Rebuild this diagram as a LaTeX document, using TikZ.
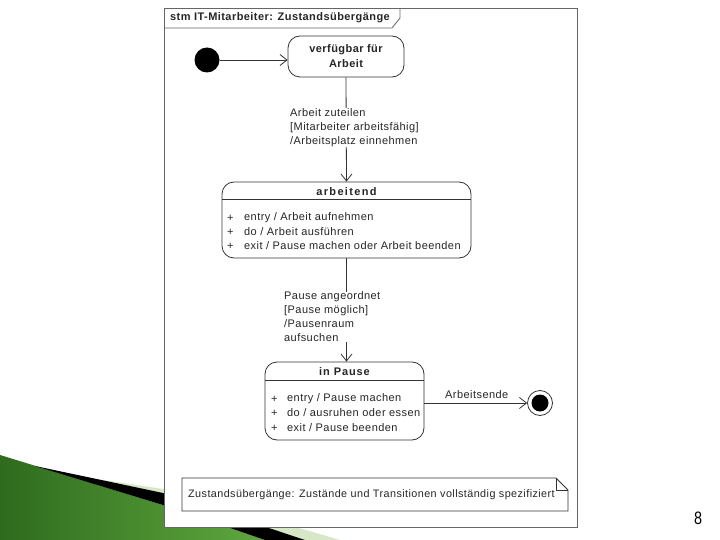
\documentclass[tikz,border=0pt]{standalone}
\usepackage{fontspec}
\setmainfont{Liberation Sans}[LetterSpace=4]
\newfontfamily\numfont{Liberation Sans}
\usetikzlibrary{arrows.meta,calc}
\definecolor{gdark}{HTML}{2E6B1E}
\definecolor{glight}{HTML}{5FA83E}
\definecolor{gpale}{HTML}{D6E8C8}
\tikzset{
  line/.style={draw=black!80, line width=0.8pt},
  state/.style={line, rounded corners=12pt, rectangle, fill=white, inner sep=0pt},
  lbl/.style={font=\fontsize{11}{14}\selectfont, text=black!85, inner sep=0pt, align=left},
  hdr/.style={font=\bfseries\fontsize{11}{15}\selectfont, text=black!85, inner sep=0pt, align=center},
  arr/.style={line, -{Straight Barb[length=7pt,width=11pt]}},
}
\begin{document}
\begin{tikzpicture}[x=1pt,y=-1pt]
\useasboundingbox (0,0) rectangle (720,540);
% slide decoration
\fill[gpale] (90,478) -- (170,490) -- (340,540) -- (300,540) -- (163,495) -- cycle;
\shade[left color=gdark, right color=glight] (0,455) -- (163,505) -- (265,540) -- (0,540) -- cycle;
\fill[black] (35,466) -- (163,493) -- (305,540) -- (265,540) -- (163,505) -- cycle;
% frame
\draw[draw=black!60, line width=0.8pt, fill=white] (164,8) rectangle (577,527);
\draw[draw=black!60, line width=0.8pt] (164,28) -- (392,28) -- (400,18) -- (400,8);
\node[hdr, anchor=west] (title) at (170,18) {stm IT-Mitarbeiter: Zustandsübergänge};
% states
\node[circle, fill=black, minimum size=25pt, inner sep=0pt] (init) at (207,60) {};
\node[state, minimum width=116pt, minimum height=41pt] (verf) at (346,56.5) {};
\node[hdr] (verft) at (346,56.5) {verfügbar für\\Arbeit};
\node[state, minimum width=249pt, minimum height=76pt] (arb) at (346.5,220) {};
\node[hdr] (arbt) at (346.5,192) {\addfontfeature{LetterSpace=12}arbeitend};
\draw[line] ($(arb.north west)+(0,18)$) -- ($(arb.north east)+(0,18)$);
\node[lbl, anchor=west] (a1p) at (227,218) {+};
\node[lbl, anchor=west] (a1) at (244,218) {entry / Arbeit aufnehmen};
\node[lbl, anchor=west] (a2p) at (227,232) {+};
\node[lbl, anchor=west] (a2) at (244,232) {do / Arbeit ausführen};
\node[lbl, anchor=west] (a3p) at (227,246) {+};
\node[lbl, anchor=west] (a3) at (244,246) {exit / Pause machen oder Arbeit beenden};
\node[state, minimum width=159pt, minimum height=78pt] (pau) at (344.5,401) {};
\node[hdr] (paut) at (344.5,372) {\addfontfeature{LetterSpace=8}in Pause};
\draw[line] ($(pau.north west)+(0,19)$) -- ($(pau.north east)+(0,19)$);
\node[lbl, anchor=west] (p1p) at (271,399) {+};
\node[lbl, anchor=west] (p1) at (287,399) {entry / Pause machen};
\node[lbl, anchor=west] (p2p) at (271,413) {+};
\node[lbl, anchor=west] (p2) at (287,413) {do / ausruhen oder essen};
\node[lbl, anchor=west] (p3p) at (271,428) {+};
\node[lbl, anchor=west] (p3) at (287,428) {exit / Pause beenden};
\node[circle, line, fill=white, minimum size=25pt, inner sep=0pt] (fin) at (540,403) {};
\node[circle, fill=black, minimum size=17pt, inner sep=0pt] (finin) at (fin) {};
% transitions
\draw[arr] (init) -- (verf.west |- init);
\draw[arr] (verf.south) -- (arb.north);
\draw[arr] (arb.south) -- (pau.north -| arb.south);
\draw[arr] (pau.east |- fin) -- (fin.west);
\node[lbl, fill=white, anchor=west] (t1) at (290,127.5) {Arbeit zuteilen\\{[}Mitarbeiter arbeitsfähig{]}\\/Arbeitsplatz einnehmen};
\node[lbl, fill=white, anchor=west] (t2) at (284,317) {Pause angeordnet\\{[}Pause möglich{]}\\/Pausenraum\\aufsuchen};
\node[lbl, anchor=south west] (t3) at (445,399) {Arbeitsende};
% note
\draw[line, fill=white] (182,478) -- (556,478) -- (568,490) -- (568,511) -- (182,511) -- cycle;
\draw[line] (556,478) -- (556,490) -- (568,490);
\node[lbl, font=\fontsize{10.8}{14}\selectfont, anchor=west] (note) at (188,495) {Zustandsübergänge: Zustände und Transitionen vollständig spezifiziert};
% page number
\node[font=\numfont\fontsize{18}{20}\selectfont, xscale=0.8, inner sep=0pt] (pnum) at (698,518) {8};
\end{tikzpicture}
\end{document}
